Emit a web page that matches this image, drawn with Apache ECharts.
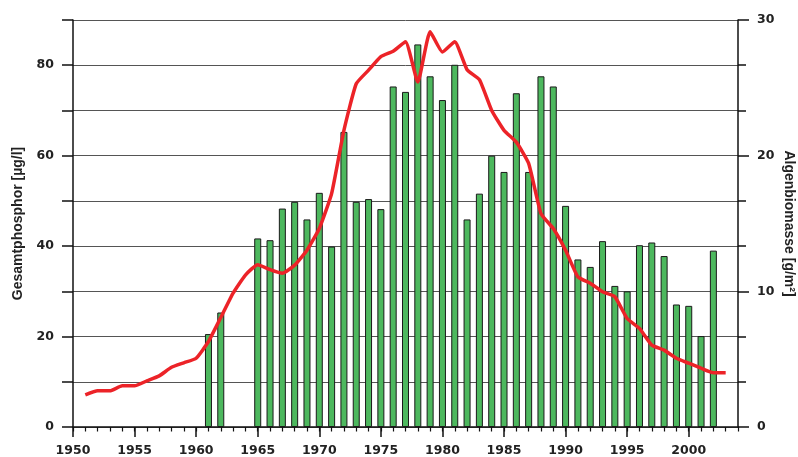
<!DOCTYPE html>
<html>
<head>
<meta charset="utf-8">
<script src="https://cdn.jsdelivr.net/npm/echarts@6/dist/echarts.min.js"></script>
<style>
  html, body { margin: 0; padding: 0; background: #fff; }
  #chart { width: 798px; height: 457px; }
</style>
</head>
<body>
<div id="chart"></div>
<script>
// Gesamtphosphor [µg/l], 1951-2003 (linke Achse)
const phosphorYears = [1951, 1952, 1953, 1954, 1955, 1956, 1957, 1958, 1959, 1960,
    1961, 1962, 1963, 1964, 1965, 1966, 1967, 1968, 1969, 1970,
    1971, 1972, 1973, 1974, 1975, 1976, 1977, 1978, 1979, 1980,
    1981, 1982, 1983, 1984, 1985, 1986, 1987, 1988, 1989, 1990,
    1991, 1992, 1993, 1994, 1995, 1996, 1997, 1998, 1999, 2000,
    2001, 2002, 2003];
const phosphorValues = [7.1, 8.0, 8.0, 9.1, 9.1, 10.2, 11.3, 13.2, 14.2, 15.2,
    18.9, 24.2, 29.6, 33.6, 35.9, 34.8, 34.0, 35.8, 39.1, 43.9,
    51.6, 65.6, 75.9, 78.9, 81.9, 83.1, 85.2, 76.3, 87.4, 82.9,
    85.2, 79.0, 76.8, 70.0, 65.6, 63.0, 58.3, 47.2, 43.9, 39.1,
    33.2, 31.8, 29.9, 28.8, 24.0, 21.8, 18.1, 17.0, 15.2, 14.1,
    13.0, 12.0, 12.0];

// Algenbiomasse [g/m²] (rechte Achse)
const biomassYears = [1961, 1962, 1965, 1966, 1967, 1968, 1969, 1970,
    1971, 1972, 1973, 1974, 1975, 1976, 1977, 1978, 1979, 1980,
    1981, 1982, 1983, 1984, 1985, 1986, 1987, 1988, 1989, 1990,
    1991, 1992, 1993, 1994, 1995, 1996, 1997, 1998, 1999, 2000,
    2001, 2002];
const biomassValues = [6.85, 8.44, 13.9, 13.77, 16.1, 16.6, 15.3, 17.26,
    13.3, 21.75, 16.6, 16.8, 16.06, 25.1, 24.7, 28.2, 25.85, 24.1,
    26.7, 15.3, 17.2, 20.0, 18.8, 24.6, 18.8, 25.85, 25.1, 16.3,
    12.35, 11.8, 13.7, 10.4, 10.0, 13.4, 13.6, 12.6, 9.03, 8.93,
    6.7, 13.0];

const leftTicks = [0, 20, 40, 60, 80];
const rightTicks = [0, 10, 20, 30];
const yearLabels = [1950, 1955, 1960, 1965, 1970, 1975, 1980, 1985, 1990, 1995, 2000];

const chart = echarts.init(document.getElementById('chart'));

const labelFont = {
    fontFamily: 'DejaVu Sans',
    fontWeight: 'bold',
    fontSize: 12.5,
    color: '#222'
};
const nameFont = {
    fontFamily: 'Liberation Sans',
    fontWeight: 'bold',
    fontSize: 14,
    color: '#222'
};

const option = {
    animation: false,
    grid: {
        left: 73,
        right: 60,
        top: 20,
        bottom: 30,
        containLabel: false,
        outerBoundsMode: 'none'
    },
    xAxis: [
        {
            // kleine Striche, jedes Jahr
            type: 'value',
            min: 1950,
            max: 2004,
            interval: 1,
            position: 'bottom',
            axisLine: { lineStyle: { color: '#111', width: 1.5 } },
            axisTick: { length: 4.5, lineStyle: { color: '#111', width: 1.2 } },
            axisLabel: { show: false },
            splitLine: { show: false }
        },
        {
            // große Striche mit Beschriftung
            type: 'value',
            min: 1950,
            max: 2004,
            interval: 5,
            position: 'bottom',
            axisLine: { show: false },
            axisTick: { length: 10, customValues: yearLabels, lineStyle: { color: '#111', width: 1.5 } },
            axisLabel: Object.assign({}, labelFont, {
                margin: 17,
                customValues: yearLabels,
                formatter: v => String(v)
            }),
            splitLine: { show: false }
        }
    ],
    yAxis: [
        {
            type: 'value',
            name: 'Gesamtphosphor [µg/l]',
            nameLocation: 'middle',
            nameGap: 48,
            nameRotate: 90,
            nameMoveOverlap: false,
            nameTextStyle: nameFont,
            min: 0,
            max: 90,
            interval: 10,
            axisLine: { show: true, lineStyle: { color: '#111', width: 1.5 } },
            axisTick: { show: true, length: 11, lineStyle: { color: '#111', width: 1.5 } },
            axisLabel: Object.assign({}, labelFont, {
                margin: 19,
                formatter: v => (leftTicks.indexOf(v) >= 0 ? String(v) : '')
            }),
            splitLine: { show: true, lineStyle: { color: '#555', width: 1 } }
        },
        {
            type: 'value',
            name: 'Algenbiomasse [g/m²]',
            nameLocation: 'middle',
            nameGap: 44,
            nameRotate: -90,
            nameMoveOverlap: false,
            nameTextStyle: nameFont,
            min: 0,
            max: 30,
            interval: 10,
            position: 'right',
            axisLine: { show: true, lineStyle: { color: '#111', width: 1.5 } },
            axisTick: { show: true, length: 11, lineStyle: { color: '#111', width: 1.5 } },
            minorTick: { show: true, splitNumber: 3, length: 8, lineStyle: { color: '#111', width: 1.5 } },
            axisLabel: Object.assign({}, labelFont, {
                margin: 19,
                formatter: v => (rightTicks.indexOf(v) >= 0 ? String(v) : '')
            }),
            splitLine: { show: false }
        }
    ],
    series: [
        {
            name: 'Algenbiomasse',
            type: 'bar',
            xAxisIndex: 0,
            yAxisIndex: 1,
            barWidth: 7,
            itemStyle: {
                color: '#4db85e',
                borderColor: '#1a1a1a',
                borderWidth: 1
            },
            data: biomassYears.map((y, i) => [y, biomassValues[i]])
        },
        {
            name: 'Gesamtphosphor',
            type: 'line',
            xAxisIndex: 0,
            yAxisIndex: 0,
            symbol: 'none',
            smooth: 0.15,
            lineStyle: { color: '#ec2328', width: 3.5 },
            data: phosphorYears.map((y, i) => [y, phosphorValues[i]])
        }
    ]
};

chart.setOption(option);
</script>
</body>
</html>
